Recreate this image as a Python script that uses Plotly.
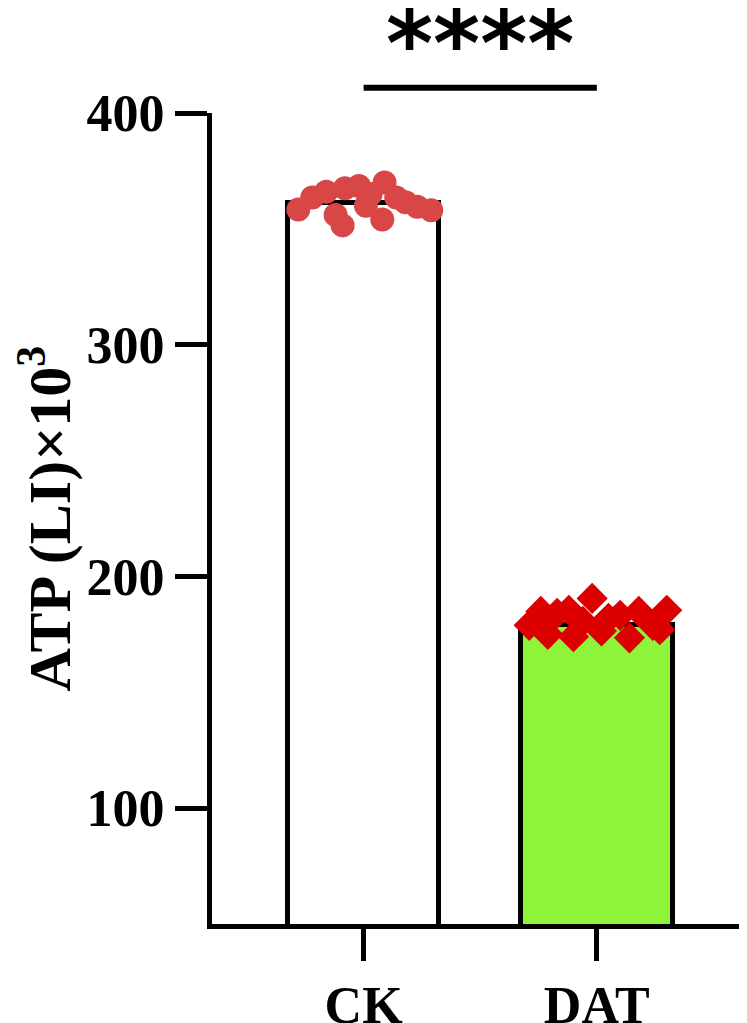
import plotly.graph_objects as go

categories = ["CK", "DAT"]
bar_means = [361, 179]

ck_values = [358.3, 363.5, 366.0, 367.5, 351.5, 368.5, 360.0, 365.0, 370.0, 354.0, 363.5, 361.5, 359.5, 358.0, 356.0]
ck_offsets = [-0.28, -0.22, -0.16, -0.08, -0.09, -0.02, 0.01, 0.03, 0.09, 0.08, 0.14, 0.18, 0.23, 0.29, -0.12]

dat_values = [178.9, 184.9, 184.1, 185.4, 190.5, 180.6, 181.9, 183.2, 184.9, 185.4, 178.9, 175.0, 174.0, 176.5, 173.5, 177.0]
dat_offsets = [-0.29, -0.24, -0.17, -0.12, -0.02, -0.06, 0.05, 0.10, 0.18, 0.30, 0.24, -0.21, -0.10, 0.02, 0.14, 0.27]

y_ticks = [100, 200, 300, 400]
significance = "****"

font_serif = dict(family="Liberation Serif", size=52, color="black", weight="bold")

fig = go.Figure()

fig.add_trace(go.Bar(
    x=[0, 1], y=bar_means, width=0.65,
    marker=dict(color=["white", "#8ef43a"], line=dict(color="black", width=5)),
    showlegend=False,
))

fig.add_trace(go.Scatter(
    x=[0 + o for o in ck_offsets], y=ck_values, mode="markers",
    marker=dict(symbol="circle", size=24, color="#d94646"),
    showlegend=False, cliponaxis=False,
))

fig.add_trace(go.Scatter(
    x=[1 + o for o in dat_offsets], y=dat_values, mode="markers",
    marker=dict(symbol="diamond", size=24, color="#dd0000"),
    showlegend=False, cliponaxis=False,
))

# page body has an 8px margin, so the figure is sized to fit the window
fig.update_layout(
    width=739, height=1015,
    margin=dict(l=204, r=0, t=105, b=99),
    plot_bgcolor="white", paper_bgcolor="white",
    bargap=0,
)

fig.update_xaxes(
    range=[-0.65, 1.644], automargin=False,
    tickmode="array", tickvals=[0, 1], ticktext=categories,
    showline=True, linewidth=5, linecolor="black",
    ticks="outside", ticklen=32, tickwidth=5, tickcolor="black",
    tickfont=font_serif, showgrid=False, zeroline=False,
)

fig.update_yaxes(
    range=[50, 400], automargin=False,
    tickmode="array", tickvals=y_ticks,
    showline=True, linewidth=5, linecolor="black",
    ticks="outside", ticklen=32, tickwidth=5, tickcolor="black",
    tickfont=font_serif, showgrid=False, zeroline=False,
    title=dict(text="ATP (LI)×10<sup>3</sup>", font=dict(family="Liberation Serif", size=60, color="black", weight="bold"), standoff=0),
)

fig.add_shape(type="line", xref="x", yref="paper", x0=0, x1=1, y0=1.031, y1=1.031,
              line=dict(color="black", width=6))

fig.add_annotation(xref="x", yref="paper", x=0.5, y=1.086, text="<b>" + significance + "</b>",
                   showarrow=False, yanchor="middle",
                   font=dict(family="DejaVu Sans", size=90, color="black"))

fig.write_html("out.html")
